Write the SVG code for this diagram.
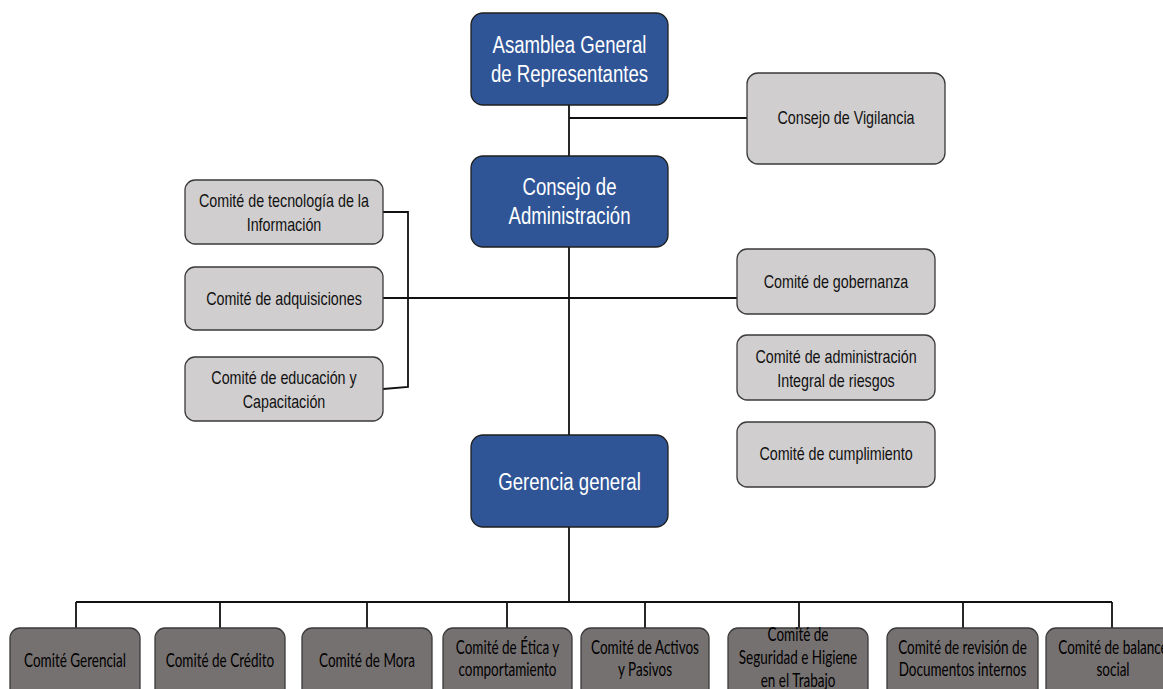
<svg xmlns="http://www.w3.org/2000/svg" width="1163" height="689" viewBox="0 0 1163 689">
<style>
.bg{fill:#ffffff}
.blue{fill:#2F5597;stroke:#1f1f1f;stroke-width:1.3}
.gray{fill:#D0CECE;stroke:#3a3a3a;stroke-width:1.3}
.dark{fill:#767171;stroke:#3a3a3a;stroke-width:1.3}
.tb{font-family:"Liberation Sans",Arial,sans-serif;font-size:18.6px;fill:#ffffff;text-anchor:middle}
.tg{font-family:"Liberation Sans",Arial,sans-serif;font-size:14.3px;fill:#111111;text-anchor:middle}
.td{font-family:Lato,"Liberation Sans",sans-serif;font-size:13.5px;fill:#000000;text-anchor:middle}
.ln{fill:none;stroke:#111111;stroke-width:1.8}
</style>
<rect class="bg" x="0" y="0" width="1163" height="689"/>
<g id="connectors">
<path class="ln" d="M569,105 V156 M569,118 H747 M569,247 V435 M383,298 H737 M383,212 H408 V387 L383,389 M569,527 V602"/>
<path class="ln" d="M76,602 H1112 M76,602 V628 M220,602 V628 M367,602 V628 M507,602 V628 M645,602 V628 M799,602 V628 M963,602 V628 M1112,602 V628"/>
</g>
<g id="asamblea">
<rect class="blue" x="471" y="13" width="197" height="92" rx="12"/>
<text class="tb" transform="translate(569.5,53) scale(1,1.3)">Asamblea General</text>
<text class="tb" transform="translate(569.5,82) scale(1,1.3)">de Representantes</text>
</g>
<g id="vigilancia">
<rect class="gray" x="747" y="73" width="198" height="91" rx="11"/>
<text class="tg" transform="translate(846,124) scale(1,1.27)">Consejo de Vigilancia</text>
</g>
<g id="consejo-admin">
<rect class="blue" x="471" y="156" width="197" height="91" rx="12"/>
<text class="tb" transform="translate(569.5,195) scale(1,1.3)">Consejo de</text>
<text class="tb" transform="translate(569.5,224) scale(1,1.3)">Administración</text>
</g>
<g id="tecnologia">
<rect class="gray" x="185" y="180" width="198" height="64" rx="10"/>
<text class="tg" transform="translate(284,207) scale(1,1.27)">Comité de tecnología de la</text>
<text class="tg" transform="translate(284,231) scale(1,1.27)">Información</text>
</g>
<g id="adquisiciones">
<rect class="gray" x="185" y="267" width="198" height="63" rx="10"/>
<text class="tg" transform="translate(284,305) scale(1,1.27)">Comité de adquisiciones</text>
</g>
<g id="educacion">
<rect class="gray" x="185" y="357" width="198" height="64" rx="10"/>
<text class="tg" transform="translate(284,384) scale(1,1.27)">Comité de educación y</text>
<text class="tg" transform="translate(284,408) scale(1,1.27)">Capacitación</text>
</g>
<g id="gobernanza">
<rect class="gray" x="737" y="249" width="198" height="65" rx="10"/>
<text class="tg" transform="translate(836,288) scale(1,1.27)">Comité de gobernanza</text>
</g>
<g id="riesgos">
<rect class="gray" x="737" y="335" width="198" height="65" rx="10"/>
<text class="tg" transform="translate(836,363) scale(1,1.27)">Comité de administración</text>
<text class="tg" transform="translate(836,387) scale(1,1.27)">Integral de riesgos</text>
</g>
<g id="cumplimiento">
<rect class="gray" x="737" y="422" width="198" height="65" rx="10"/>
<text class="tg" transform="translate(836,460) scale(1,1.27)">Comité de cumplimiento</text>
</g>
<g id="gerencia">
<rect class="blue" x="471" y="435" width="197" height="92" rx="12"/>
<text class="tb" transform="translate(569.5,490) scale(1,1.3)">Gerencia general</text>
</g>
<g id="c-gerencial">
<rect class="dark" x="10" y="628" width="130" height="80" rx="10"/>
<text class="td" transform="translate(75,667) scale(1,1.38)">Comité Gerencial</text>
</g>
<g id="c-credito">
<rect class="dark" x="155" y="628" width="130" height="80" rx="10"/>
<text class="td" transform="translate(220,667) scale(1,1.38)">Comité de Crédito</text>
</g>
<g id="c-mora">
<rect class="dark" x="302" y="628" width="130" height="80" rx="10"/>
<text class="td" transform="translate(367,667) scale(1,1.38)">Comité de Mora</text>
</g>
<g id="c-etica">
<rect class="dark" x="443" y="628" width="129" height="80" rx="10"/>
<text class="td" transform="translate(507.5,654) scale(1,1.38)">Comité de Ética y</text>
<text class="td" transform="translate(507.5,676) scale(1,1.38)">comportamiento</text>
</g>
<g id="c-activos">
<rect class="dark" x="581" y="628" width="128" height="80" rx="10"/>
<text class="td" transform="translate(645,654) scale(1,1.38)">Comité de Activos</text>
<text class="td" transform="translate(645,676) scale(1,1.38)">y Pasivos</text>
</g>
<g id="c-seguridad">
<rect class="dark" x="728" y="628" width="140" height="80" rx="10"/>
<text class="td" transform="translate(798,641) scale(1,1.38)">Comité de</text>
<text class="td" transform="translate(798,664) scale(1,1.38)">Seguridad e Higiene</text>
<text class="td" transform="translate(798,687) scale(1,1.38)">en el Trabajo</text>
</g>
<g id="c-revision">
<rect class="dark" x="887" y="628" width="151" height="80" rx="10"/>
<text class="td" transform="translate(962.5,654) scale(1,1.38)">Comité de revisión de</text>
<text class="td" transform="translate(962.5,676) scale(1,1.38)">Documentos internos</text>
</g>
<g id="c-balance">
<rect class="dark" x="1046" y="628" width="134" height="80" rx="10"/>
<text class="td" transform="translate(1113,654) scale(1,1.38)">Comité de balance</text>
<text class="td" transform="translate(1113,676) scale(1,1.38)">social</text>
</g>
</svg>
